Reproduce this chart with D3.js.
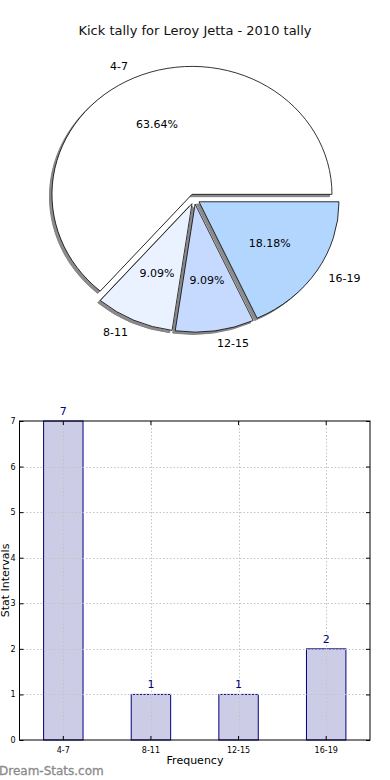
<!DOCTYPE html>
<html>
<head>
<meta charset="utf-8">
<script src="https://cdn.jsdelivr.net/npm/d3@7"></script>
<style>
  body { margin: 0; background: #fff; }
  svg { display: block; font-family: "DejaVu Sans", sans-serif; }
</style>
</head>
<body>
<svg id="vis" width="390" height="780"></svg>
<script>
const categories = ['4-7', '8-11', '12-15', '16-19'];
const counts = [7, 1, 1, 2];
const pieColors = ['#ffffff', '#eaf1ff', '#c6d9ff', '#b3d6ff'];
const yTicks = [0, 1, 2, 3, 4, 5, 6, 7];

const vis = d3.select('#vis');

// title
vis.append('text')
  .attr('x', 195).attr('y', 35)
  .attr('text-anchor', 'middle')
  .attr('font-size', 13)
  .attr('fill', '#111')
  .text('Kick tally for Leroy Jetta - 2010 tally');

// ---- pie (matplotlib style: ccw from 3 o'clock, exploded, shadowed)
const cx = 194.3, cy = 199, rx = 140, ry = 128;
const explode = 0.04;
const total = d3.sum(counts);

const pie = d3.pie().sort(null)
  .startAngle(Math.PI / 2)
  .endAngle(Math.PI / 2 - 2 * Math.PI);
const arcs = pie(counts);
const arc = d3.arc().innerRadius(0).outerRadius(1);

const pieG = vis.append('g').attr('transform', `translate(${cx},${cy})`);

function offset(d) {
  const m = (d.startAngle + d.endAngle) / 2;
  return [Math.sin(m) * explode, -Math.cos(m) * explode, m];
}

// shadows first
arcs.forEach(d => {
  const [ox, oy] = offset(d);
  pieG.append('path')
    .attr('transform', `translate(${(ox - 0.018) * rx},${(oy + 0.018) * ry}) scale(${rx},${ry})`)
    .attr('d', arc(d))
    .attr('fill', '#8c8c8c')
    .attr('stroke', '#808080')
    .attr('stroke-width', 1)
    .attr('vector-effect', 'non-scaling-stroke');
});

arcs.forEach((d, i) => {
  const [ox, oy, m] = offset(d);
  pieG.append('path')
    .attr('transform', `translate(${ox * rx},${oy * ry}) scale(${rx},${ry})`)
    .attr('d', arc(d))
    .attr('fill', pieColors[i])
    .attr('stroke', '#000')
    .attr('stroke-width', 0.8)
    .attr('vector-effect', 'non-scaling-stroke');

  const ax = ox * rx, ay = oy * ry;
  const lx = ax + 1.1 * rx * Math.sin(m), ly = ay - 1.1 * ry * Math.cos(m);
  pieG.append('text')
    .attr('x', lx).attr('y', ly)
    .attr('dy', '0.35em')
    .attr('text-anchor', lx < 0 ? 'end' : 'start')
    .attr('font-size', 11)
    .text(categories[i]);

  pieG.append('text')
    .attr('x', ax + 0.6 * rx * Math.sin(m))
    .attr('y', ay - 0.6 * ry * Math.cos(m))
    .attr('dy', '0.35em')
    .attr('text-anchor', 'middle')
    .attr('font-size', 11)
    .text((counts[i] / total * 100).toFixed(2) + '%');
});

// ---- bar chart
const pLeft = 19.5, pRight = 370, pTop = 421, pBottom = 740;
const x = d3.scaleBand().domain(categories).range([pLeft, pRight]).padding(0);
const y = d3.scaleLinear().domain([0, 7]).range([pBottom, pTop]);
const barW = x.bandwidth() * 0.45;
const cxOf = c => x(c) + x.bandwidth() / 2;

vis.append('g').selectAll('rect')
  .data(categories)
  .enter().append('rect')
    .attr('x', c => cxOf(c) - barW / 2)
    .attr('y', (c, i) => y(counts[i]))
    .attr('width', barW)
    .attr('height', (c, i) => pBottom - y(counts[i]))
    .attr('fill', '#ccccE6')
    .attr('stroke', '#000080')
    .attr('stroke-width', 1);

// grid on top of bars
const grid = vis.append('g')
  .attr('stroke', '#c4c4c4')
  .attr('stroke-width', 1)
  .attr('stroke-dasharray', '1.5,2');
grid.selectAll('.hg').data(yTicks.slice(1, -1)).enter().append('line')
  .attr('x1', pLeft).attr('x2', pRight)
  .attr('y1', d => Math.round(y(d)) + 0.5).attr('y2', d => Math.round(y(d)) + 0.5);
grid.selectAll('.vg').data(categories).enter().append('line')
  .attr('x1', c => Math.round(cxOf(c)) + 0.5).attr('x2', c => Math.round(cxOf(c)) + 0.5)
  .attr('y1', pTop).attr('y2', pBottom);

// value labels
vis.append('g').selectAll('text')
  .data(categories)
  .enter().append('text')
    .attr('x', c => cxOf(c))
    .attr('y', (c, i) => y(counts[i]) - 6)
    .attr('text-anchor', 'middle')
    .attr('font-size', 11)
    .attr('fill', '#000080')
    .text((c, i) => counts[i]);

// axes
const yAxis = vis.append('g')
  .attr('transform', `translate(${pLeft},0)`)
  .call(d3.axisLeft(y).tickValues(yTicks).tickSize(-4).tickPadding(4).tickFormat(d3.format('d')));
yAxis.select('.domain').remove();
yAxis.selectAll('text').attr('font-size', 8).attr('font-family', 'DejaVu Sans');
yAxis.selectAll('line').attr('stroke', '#000');

const yAxisR = vis.append('g')
  .attr('transform', `translate(${pRight},0)`)
  .call(d3.axisRight(y).tickValues(yTicks).tickSize(-4).tickFormat(''));
yAxisR.select('.domain').remove();

const xAxis = vis.append('g')
  .attr('transform', `translate(0,${pBottom})`)
  .call(d3.axisBottom(x).tickSize(-4).tickPadding(7));
xAxis.select('.domain').remove();
xAxis.selectAll('text').attr('font-size', 8).attr('font-family', 'DejaVu Sans');

const xAxisT = vis.append('g')
  .attr('transform', `translate(0,${pTop})`)
  .call(d3.axisTop(x).tickSize(-4).tickFormat(''));
xAxisT.select('.domain').remove();

vis.append('rect')
  .attr('x', pLeft).attr('y', pTop)
  .attr('width', pRight - pLeft).attr('height', pBottom - pTop)
  .attr('fill', 'none').attr('stroke', '#000').attr('stroke-width', 1);

vis.append('text')
  .attr('x', 195).attr('y', 764)
  .attr('text-anchor', 'middle')
  .attr('font-size', 11)
  .text('Frequency');

vis.append('text')
  .attr('transform', `translate(9,${(pTop + pBottom) / 2}) rotate(-90)`)
  .attr('text-anchor', 'middle')
  .attr('font-size', 11)
  .text('Stat Intervals');

vis.append('text')
  .attr('x', -1).attr('y', 775)
  .attr('font-size', 12)
  .attr('fill', '#8a8a8a')
  .attr('stroke', '#8a8a8a')
  .attr('stroke-width', 0.3)
  .text('Dream-Stats.com');
</script>
</body>
</html>
